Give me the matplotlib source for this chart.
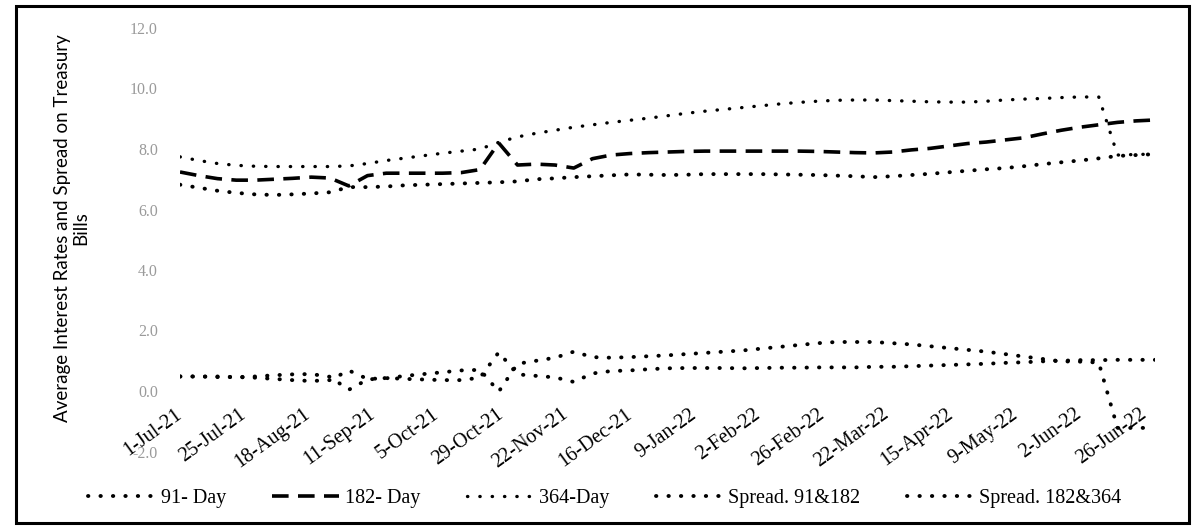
import matplotlib
matplotlib.use("Agg")
import matplotlib.pyplot as plt
import pandas as pd
from matplotlib.patches import Rectangle

# weekly auction dates, 1-Jul-21 .. 30-Jun-22
dates = pd.date_range("2021-07-01", periods=53, freq="7D")

rate_91 = [6.82, 6.72, 6.62, 6.55, 6.50, 6.48, 6.50, 6.53, 6.57, 6.74,
           6.74, 6.76, 6.80, 6.82, 6.84, 6.86, 6.88, 6.90, 6.93, 7.00,
           7.03, 7.07, 7.10, 7.13, 7.16, 7.15, 7.14, 7.15, 7.17, 7.17,
           7.17, 7.17, 7.16, 7.15, 7.14, 7.12, 7.10, 7.07, 7.10, 7.14,
           7.18, 7.23, 7.28, 7.33, 7.37, 7.43, 7.50, 7.56, 7.62, 7.69,
           7.77, 7.80, 7.83]
rate_182 = [7.24, 7.12, 7.02, 6.97, 6.97, 7.00, 7.03, 7.07, 7.04, 6.78,
            7.12, 7.20, 7.20, 7.20, 7.20, 7.22, 7.32, 8.20, 7.47, 7.50,
            7.47, 7.37, 7.68, 7.80, 7.85, 7.88, 7.90, 7.92, 7.93, 7.93,
            7.93, 7.93, 7.93, 7.93, 7.92, 7.90, 7.88, 7.87, 7.90, 7.97,
            8.02, 8.10, 8.18, 8.23, 8.30, 8.37, 8.50, 8.62, 8.72, 8.80,
            8.88, 8.93, 8.96]
rate_364 = [7.74, 7.62, 7.52, 7.46, 7.43, 7.42, 7.42, 7.42, 7.42, 7.44,
            7.52, 7.62, 7.70, 7.78, 7.86, 7.93, 8.00, 8.22, 8.40, 8.52,
            8.62, 8.72, 8.80, 8.88, 8.95, 9.02, 9.10, 9.18, 9.25, 9.31,
            9.37, 9.43, 9.49, 9.54, 9.58, 9.61, 9.62, 9.62, 9.60, 9.58,
            9.56, 9.55, 9.55, 9.58, 9.62, 9.65, 9.67, 9.70, 9.72, 9.72,
            7.80, 7.82, 7.83]
spread_91_182 = [0.48, 0.48, 0.46, 0.46, 0.48, 0.52, 0.55, 0.56, 0.47, 0.04,
                 0.38, 0.43, 0.40, 0.38, 0.36, 0.36, 0.44, 1.28, 0.55, 0.50,
                 0.45, 0.30, 0.58, 0.66, 0.68, 0.72, 0.75, 0.76, 0.76, 0.76,
                 0.75, 0.76, 0.77, 0.77, 0.78, 0.78, 0.78, 0.80, 0.80, 0.82,
                 0.84, 0.86, 0.88, 0.90, 0.93, 0.95, 0.98, 1.00, 1.02, 1.02,
                 1.03, 1.03, 1.03]
spread_182_364 = [0.48, 0.48, 0.48, 0.46, 0.44, 0.40, 0.36, 0.33, 0.36, 0.68,
                  0.40, 0.42, 0.50, 0.56, 0.62, 0.68, 0.70, -0.02, 0.90, 1.00,
                  1.10, 1.30, 1.12, 1.10, 1.12, 1.15, 1.18, 1.22, 1.26, 1.30,
                  1.34, 1.40, 1.46, 1.52, 1.58, 1.62, 1.62, 1.62, 1.58, 1.54,
                  1.48, 1.42, 1.36, 1.30, 1.22, 1.14, 1.06, 0.98, 0.97, 0.94,
                  -1.22, -1.22, -1.22]

tick_dates = pd.date_range("2021-07-01", periods=16, freq="24D")
tick_labels = ["1-Jul-21", "25-Jul-21", "18-Aug-21", "11-Sep-21", "5-Oct-21",
               "29-Oct-21", "22-Nov-21", "16-Dec-21", "9-Jan-22", "2-Feb-22",
               "26-Feb-22", "22-Mar-22", "15-Apr-22", "9-May-22", "2-Jun-22",
               "26-Jun-22"]
y_ticks = [-2, 0, 2, 4, 6, 8, 10, 12]
y_labels = ["-2.0", "0.0", "2.0", "4.0", "6.0", "8.0", "10.0", "12.0"]

W, H = 1193, 527
fig = plt.figure(figsize=(W / 100, H / 100), dpi=100)
ax = fig.add_axes([180 / W, 1 - 451.5 / H, (1155 - 180) / W, (451.5 - 28) / H])

dot = (0, (0.1, 3.1))
ax.plot(dates, rate_91, color="black", lw=2.8, linestyle=dot,
        dash_capstyle="round", label="91- Day")
ax.plot(dates, rate_182, color="black", lw=2.6, linestyle=(0, (4.6, 2.6)),
        dash_capstyle="butt", label="182- Day")
ax.plot(dates, rate_364, color="black", lw=2.4, linestyle=(0, (0.1, 3.6)),
        dash_capstyle="round", label="364-Day")
ax.plot(dates, spread_91_182, color="black", lw=2.8, linestyle=dot,
        dash_capstyle="round", label="Spread. 91&182")
ax.plot(dates, spread_182_364, color="black", lw=2.8, linestyle=dot,
        dash_capstyle="round", label="Spread. 182&364")

ax.set_xlim(pd.Timestamp("2021-07-01"), pd.Timestamp("2022-06-30"))
ax.set_ylim(-2, 12)
ax.set_yticks(y_ticks)
ax.set_yticklabels(y_labels, family="Liberation Serif", fontsize=11.5, color="#9a9a9a")
ax.set_xticks(tick_dates)
ax.set_xticklabels(tick_labels, family="Liberation Serif", fontsize=14.5)
plt.setp(ax.get_xticklabels(), rotation=36, ha="right", va="center",
         rotation_mode="anchor")
ax.tick_params(axis="x", length=0, pad=-28)
ax.tick_params(axis="y", length=0, pad=16)
for s in ax.spines.values():
    s.set_visible(False)

fig.text(72 / W, 1 - 228 / H,
         "Average Interest Rates and Spread on Treasury\nBills",
         rotation=90, ha="center", va="center", multialignment="center",
         family="Lato", fontsize=13.5, linespacing=1.1)

fig.legend(loc="center", bbox_to_anchor=(605 / W, 1 - 498 / H), ncol=5,
           frameon=False, prop={"family": "Liberation Serif", "size": 14.5},
           handlelength=3.3, handletextpad=0.3, columnspacing=2.3)

fig.patches.append(Rectangle((16 / W, 1 - 523 / H), (1189 - 16) / W, (523 - 6) / H,
                             transform=fig.transFigure, fill=False,
                             edgecolor="black", lw=2.2))

fig.savefig("out.png", dpi=100)
